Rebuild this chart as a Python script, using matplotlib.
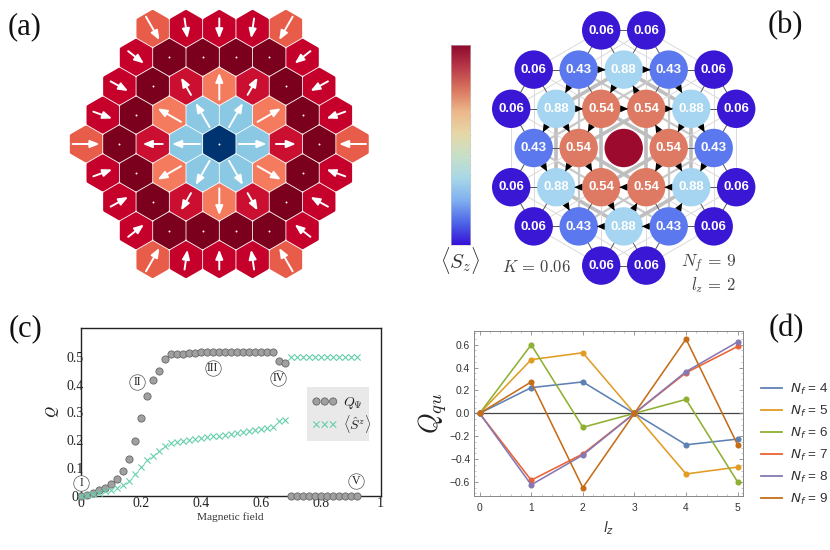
import numpy as np
import matplotlib
matplotlib.use('Agg')
import matplotlib.pyplot as plt
from matplotlib.patches import Polygon, Circle, Rectangle
from matplotlib.colors import LinearSegmentedColormap
from matplotlib.ticker import MultipleLocator

plt.rcParams['font.family'] = ['Liberation Sans', 'DejaVu Sans']
plt.rcParams['mathtext.fontset'] = 'cm'

# ---------- data: panel (a) spin-texture cell classes by lattice row
HEX_ROWS = ["ECCCE", "CDDDDC", "CDIOIDC", "CDOBBODC", "EDIBNBIDE",
            "CDOBBODC", "CDIOIDC", "CDDDDC", "ECCCE"]
HEX_COLOR = {'E': '#E85D4A', 'C': '#C4002B', 'D': '#7A001D', 'I': '#CB0F30',
             'O': '#F47B5E', 'B': '#8AC8E4', 'N': '#003470'}
HEX_ARROW_LEN = {'E': -27, 'C': -20, 'D': 0, 'I': 20, 'O': 27, 'B': 28, 'N': 0}
# outer-ring arrow angle from horizontal, keyed by (|rows from centre|, |half cells from centre|)
OUTER_ANGLE = {(4, 0): 90, (4, 2): 81.5, (3, 5): 38, (2, 6): 29, (1, 7): 20}

# ---------- data: panel (b) occupation by lattice row (half-spacing u, value)
NODE_ROWS = {
    -3: [(-1, '0.06'), (1, '0.06')],
    -2: [(-4, '0.06'), (-2, '0.43'), (0, '0.88'), (2, '0.43'), (4, '0.06')],
    -1: [(-5, '0.06'), (-3, '0.88'), (-1, '0.54'), (1, '0.54'), (3, '0.88'), (5, '0.06')],
    0: [(-4, '0.43'), (-2, '0.54'), (0, ''), (2, '0.54'), (4, '0.43')],
    1: [(-5, '0.06'), (-3, '0.88'), (-1, '0.54'), (1, '0.54'), (3, '0.88'), (5, '0.06')],
    2: [(-4, '0.06'), (-2, '0.43'), (0, '0.88'), (2, '0.43'), (4, '0.06')],
    3: [(-1, '0.06'), (1, '0.06')],
}
NODE_COLOR = {'0.06': '#3A17D4', '0.43': '#5B78EE', '0.88': '#A5D5F0',
              '0.54': '#DE7A64', '': '#9C0A2E'}
CURRENTS = [((-2, -2), (0, -2)), ((0, -2), (2, -2)),
            ((-3, -1), (-1, -1)), ((-1, -1), (1, -1)), ((1, -1), (3, -1)),
            ((0, -2), (-1, -1)), ((1, -1), (0, -2)),
            ((-2, -2), (-3, -1)), ((2, -2), (3, -1)),
            ((-3, -1), (-4, 0)), ((-3, -1), (-2, 0)), ((-1, -1), (-2, 0)),
            ((2, 0), (1, -1)), ((3, -1), (2, 0)), ((3, -1), (4, 0)),
            ((-4, 0), (-3, 1)), ((-2, 0), (-3, 1)), ((-2, 0), (-1, 1)),
            ((2, 0), (1, 1)), ((2, 0), (3, 1)), ((4, 0), (3, 1)),
            ((3, 1), (1, 1)), ((1, 1), (-1, 1)), ((-1, 1), (-3, 1)),
            ((-3, 1), (-2, 2)), ((-1, 1), (0, 2)), ((0, 2), (1, 1)), ((2, 2), (3, 1)),
            ((2, 2), (0, 2)), ((0, 2), (-2, 2))]
CBAR_COLORS = ['#3512D6', '#4F66E8', '#7FB0F0', '#A8D8E8', '#C8E0C8', '#E6D8A8',
               '#EDB88A', '#D9765F', '#B83A48', '#8F0A2E']

# ---------- data: panel (c)
FIELD_LOW = [0.00, 0.02, 0.04, 0.06, 0.08, 0.10, 0.12, 0.14, 0.16, 0.18, 0.20, 0.22,
             0.24, 0.26, 0.28, 0.30, 0.32, 0.34, 0.36, 0.38, 0.40, 0.42, 0.44, 0.46,
             0.48, 0.50, 0.52, 0.54, 0.56, 0.58, 0.60, 0.62, 0.64, 0.66, 0.68]
Q_PSI_LOW = [0.000, 0.005, 0.012, 0.020, 0.030, 0.043, 0.060, 0.090, 0.132, 0.197, 0.280, 0.358,
             0.415, 0.450, 0.492, 0.508, 0.510, 0.511, 0.513, 0.514, 0.515, 0.516, 0.517, 0.517,
             0.517, 0.517, 0.517, 0.517, 0.517, 0.516, 0.516, 0.516, 0.516, 0.485, 0.478]
SZ_LOW = [0.000, 0.004, 0.008, 0.012, 0.017, 0.022, 0.030, 0.040, 0.055, 0.080, 0.105, 0.128,
          0.145, 0.160, 0.180, 0.190, 0.193, 0.197, 0.200, 0.204, 0.208, 0.212, 0.214, 0.217,
          0.220, 0.224, 0.227, 0.230, 0.234, 0.237, 0.240, 0.243, 0.248, 0.268, 0.273]
FIELD_HIGH = [0.70, 0.72, 0.74, 0.76, 0.78, 0.80, 0.82, 0.84, 0.86, 0.88, 0.90, 0.92]
Q_PSI_HIGH = [0.0] * 12
SZ_HIGH = [0.5] * 12
PHASES = [('I', 0.001, 0.048), ('II', 0.188, 0.409), ('III', 0.44, 0.461),
          ('IV', 0.659, 0.424), ('V', 0.917, 0.055)]

# ---------- data: panel (d)
LZ = [0, 1, 2, 3, 4, 5]
NF_LABELS = ['4', '5', '6', '7', '8', '9']
Q_QU = [[0, 0.225, 0.275, 0, -0.275, -0.225],
        [0, 0.470, 0.530, 0, -0.530, -0.470],
        [0, 0.600, -0.122, 0, 0.122, -0.600],
        [0, -0.585, -0.355, 0, 0.355, 0.585],
        [0, -0.625, -0.365, 0, 0.365, 0.625],
        [0, 0.275, -0.650, 0, 0.650, -0.275]]
NF_COLORS = ['#5E81B5', '#E19C24', '#8FB032', '#EB6235', '#8778B3', '#C56E1A']

W, H = 830, 550
fig = plt.figure(figsize=(W / 100, H / 100), dpi=100)
bg = fig.add_axes([0, 0, 1, 1], zorder=0)
bg.set_xlim(0, W)
bg.set_ylim(H, 0)
bg.axis('off')

# ---- panel labels
for s, x, y in [('(a)', 25, 27), ('(b)', 785, 26), ('(c)', 25, 329), ('(d)', 786, 329)]:
    bg.text(x, y, s, family='Liberation Serif', fontsize=22, ha='center', va='center', color='#111111')

# ---- panel (a)
cx, cy, dx, dy = 219.3, 144.0, 33.3, 28.9
R = 16.6
ang = np.radians(np.arange(6) * 60 + 30)
for r, row in enumerate(HEX_ROWS):
    n = len(row)
    for c, k in enumerate(row):
        x0 = cx + (c - (n - 1) / 2) * dx
        y0 = cy + (r - 4) * dy
        verts = np.c_[x0 + R * np.cos(ang), y0 + R * np.sin(ang)]
        bg.add_patch(Polygon(verts, closed=True, fc=HEX_COLOR[k], ec=HEX_COLOR[k],
                             lw=2.7, joinstyle='round', zorder=2))
        L = HEX_ARROW_LEN[k]
        if L == 0:
            bg.plot([x0], [y0], 'o', ms=1.4, color='white', mew=0, zorder=3)
        else:
            rx, ry = x0 - cx, y0 - cy
            key = (abs(r - 4), int(round(abs(2 * c - (n - 1)))))
            if k == 'C' and key in OUTER_ANGLE:
                th = np.radians(OUTER_ANGLE[key])
                ex, ey = np.sign(rx) * np.cos(th), np.sign(ry) * np.sin(th)
            else:
                d = np.hypot(rx, ry)
                ex, ey = rx / d, ry / d
            ux, uy = ex * L / 2, ey * L / 2
            bg.annotate('', xy=(x0 + ux, y0 + uy), xytext=(x0 - ux, y0 - uy),
                        arrowprops=dict(arrowstyle='-|>,head_length=0.55,head_width=0.22',
                                        color='white', lw=1.4, shrinkA=0, shrinkB=0,
                                        mutation_scale=10), zorder=3)

# ---- panel (b)
bx, by, bu, bv = 623.7, 148.0, 22.5, 39.2
def pos(u, v):
    return bx + u * bu, by + v * bv
nodes = [(u, v, t) for v, row in NODE_ROWS.items() for u, t in row]
for i, (u1, v1, t1) in enumerate(nodes):
    for (u2, v2, t2) in nodes[i + 1:]:
        du, dv = abs(u1 - u2), abs(v1 - v2)
        x1, y1 = pos(u1, v1); x2, y2 = pos(u2, v2)
        if (du == 2 and dv == 0) or (du == 1 and dv == 1):      # nearest bonds
            if '' not in (t1, t2):
                bg.plot([x1, x2], [y1, y2], color='#555555', lw=0.7, zorder=1.5)
        elif ((du == 0 and dv == 2) or (du == 3 and dv == 1)) and '' not in (t1, t2):
            vals = {t1, t2}
            if '0.06' in vals:
                lw, col = 0.7, '#DADADA'
            elif '0.43' in vals:
                lw, col = 1.6, '#C8C8C8'
            else:
                lw, col = 2.6, '#BEBEBE'
            bg.plot([x1, x2], [y1, y2], color=col, lw=lw, zorder=1.2, solid_capstyle='butt')
for u, v, t in nodes:
    x, y = pos(u, v)
    bg.add_patch(Circle((x, y), 19.2, fc=NODE_COLOR[t], ec='none', zorder=2))
    if t:
        bg.text(x, y + 0.3, t, color='white', fontsize=9.5, fontweight='bold',
                ha='center', va='center', zorder=3)
for a, b in CURRENTS:
    x1, y1 = pos(*a); x2, y2 = pos(*b)
    mx, my = (x1 + x2) / 2, (y1 + y2) / 2
    d = np.hypot(x2 - x1, y2 - y1)
    ex, ey = (x2 - x1) / d, (y2 - y1) / d
    tri = [(mx + 4.5 * ex, my + 4.5 * ey),
           (mx - 3.5 * ex - 3.5 * ey, my - 3.5 * ey + 3.5 * ex),
           (mx - 3.5 * ex + 3.5 * ey, my - 3.5 * ey - 3.5 * ex)]
    bg.add_patch(Polygon(tri, closed=True, fc='black', ec='none', zorder=4))
bg.text(536, 267, r'$K\,=\,0.06$', fontsize=12, ha='center', va='center', color='#444444')
bg.text(709, 264, r'$N_f\,=\,9$', fontsize=12.5, ha='center', va='center', color='#444444')
bg.text(713, 285, r'$l_z\,=\,2$', fontsize=12, ha='center', va='center', color='#444444')
bg.text(460, 261, r'$\langle S_z\rangle$', fontsize=15, ha='center', va='center', color='#333333')

cmap = LinearSegmentedColormap.from_list('sz', CBAR_COLORS)
cb = fig.add_axes([450.7 / W, 1 - 245 / H, 19.5 / W, 200 / H], zorder=1)
cb.imshow(np.linspace(1, 0, 256)[:, None], aspect='auto', cmap=cmap, extent=[0, 1, 0, 1])
cb.set_xticks([])
cb.yaxis.tick_right()
cb.set_yticks(np.linspace(0, 1, 21)[1:-1])
cb.set_yticklabels([])
cb.tick_params(axis='y', length=1.5, width=0.4, color='#DDDDDD', direction='out')
for s in cb.spines.values():
    s.set_color('#CCCCCC')
    s.set_linewidth(0.4)

# ---- panel (c)
serif = 'Liberation Serif'
ax = fig.add_axes([80.7 / W, 1 - 496 / H, 300 / W, 167.7 / H], zorder=2)
ax.set_xlim(0, 1)
ax.set_ylim(0, 0.6017)
mk = dict(s=27, c='#A0A0A0', edgecolors='#666666', linewidths=0.6, clip_on=False)
xk = dict(marker='x', s=20, c='#66CFAC', linewidths=0.8, clip_on=False)
h1 = ax.scatter(FIELD_LOW, Q_PSI_LOW, zorder=3, **mk)
ax.scatter(FIELD_HIGH, Q_PSI_HIGH, zorder=3, **mk)
h2 = ax.scatter(FIELD_LOW, SZ_LOW, zorder=4, **xk)
ax.scatter(FIELD_HIGH, SZ_HIGH, zorder=4, **xk)
for name, x, y in PHASES:
    ax.scatter([x], [y], s=125, fc='white', ec='#555555', lw=0.5, zorder=5, clip_on=False)
    ax.text(x, y, name, family=serif, fontsize=8.5, ha='center', va='center', zorder=6, color='#222222')
ax.set_xticks([0, 0.2, 0.4, 0.6, 0.8, 1])
ax.set_xticklabels(['0', '0.2', '0.4', '0.6', '0.8', '1'])
ax.set_yticks([0, 0.1, 0.2, 0.3, 0.4, 0.5])
ax.set_yticklabels(['0', '0.1', '0.2', '0.3', '0.4', '0.5'])
ax.tick_params(length=0, labelsize=10, labelcolor='#222222')
ax.tick_params(axis='x', pad=1)
ax.tick_params(axis='y', pad=4.1)
for t in ax.get_xticklabels() + ax.get_yticklabels():
    t.set_family(serif)
    t.set_zorder(10)
for t in ax.get_yticklabels():
    t.set_ha('center')
for s in ax.spines.values():
    s.set_linewidth(1.0)
    s.set_color('#222222')
ax.set_xlabel('Magnetic field', family=serif, fontsize=8.2, color='#333333', labelpad=1.5)
ax.set_ylabel(r'$Q$', fontsize=11, math_fontfamily='stix', color='#222222', labelpad=4)
ax.add_patch(Rectangle((0.7533, 0.3298), 0.2067, 0.322, transform=ax.transAxes,
                       fc='#E9E9E9', ec='none', zorder=1))
leg = ax.legend([h1, h2], [r'$Q_{\mathbf{\Psi}}$', r'$\langle\hat{S}^z\rangle$'],
                scatterpoints=3, frameon=False, loc='upper left',
                bbox_to_anchor=(0.772, 0.60), borderaxespad=0, borderpad=0,
                handletextpad=0.4, labelspacing=0.1, handlelength=1.8, fontsize=10,
                scatteryoffsets=[0.5], labelcolor='#222222')

# ---- panel (d)
ad = fig.add_axes([474.3 / W, 1 - 496 / H, 269 / W, 165.3 / H], zorder=2)
ad.set_xlim(-0.103, 5.11)
ad.set_ylim(-0.723, 0.723)
ad.axhline(0, color='#444444', lw=0.9, zorder=1)
for vals, nf, col in zip(Q_QU, NF_LABELS, NF_COLORS):
    ad.plot(LZ, vals, '-o', color=col, lw=1.15, ms=4.4, mew=0, label=r'$N_f$ = ' + nf, zorder=2)
ad.set_xticks(LZ)
ad.set_yticks(np.arange(-0.6, 0.61, 0.2))
ad.set_yticklabels(['\u22120.6', '\u22120.4', '\u22120.2', '0.0', '0.2', '0.4', '0.6'])
ad.xaxis.set_minor_locator(MultipleLocator(0.2))
ad.yaxis.set_minor_locator(MultipleLocator(0.05))
ad.tick_params(which='major', direction='in', top=True, right=True, length=2.6, width=0.6,
               color='#888888', labelsize=7.4, labelcolor='#333333', pad=3)
ad.tick_params(axis='x', which='major', pad=5)
ad.tick_params(which='minor', direction='in', top=True, right=True, length=1.4, width=0.4,
               color='#999999')
for s in ad.spines.values():
    s.set_color('#888888')
    s.set_linewidth(0.7)
ad.set_xlabel(r'$l_z$', fontsize=10, math_fontfamily='dejavusans', color='#333333', labelpad=5)
ad.set_ylabel(r'$Q_{qu}$', fontsize=19, color='#222222', labelpad=0.5)
lg = ad.legend(loc='upper left', frameon=False, fontsize=9.7,
               handlelength=1.55, handletextpad=0.6, labelspacing=0.52, borderaxespad=0, borderpad=0,
               labelcolor='#333333', bbox_to_anchor=(1.066, 0.693))
for t in lg.get_texts():
    t.set_math_fontfamily('dejavusans')
for h in lg.get_lines():
    h.set_marker('')
    h.set_linewidth(1.3)

fig.savefig('out.png', dpi=100)
